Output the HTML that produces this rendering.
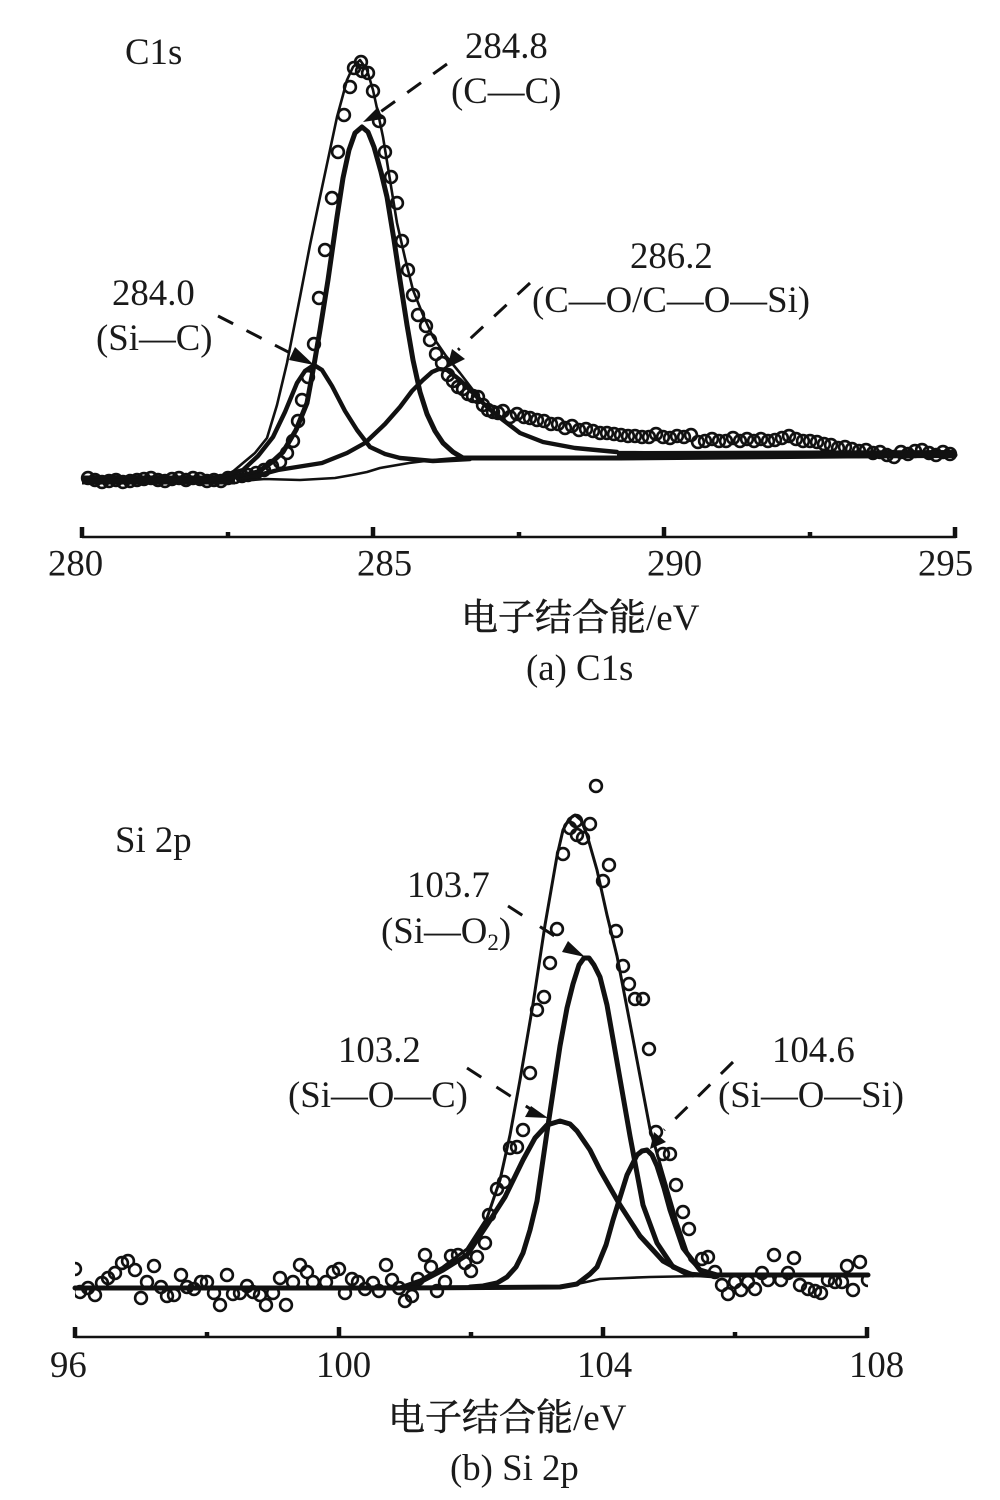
<!DOCTYPE html>
<html><head><meta charset="utf-8"><style>
html,body{margin:0;padding:0;background:#fff}
svg{display:block}
text{font-family:"Liberation Serif","Noto Serif CJK SC",serif;font-size:36.8px;fill:#1a1a1a}
.cn{font-family:"Liberation Serif","Noto Serif CJK SC",serif;font-size:37px}
.cj{stroke:#1a1a1a;stroke-width:.6}
.o circle{fill:none;stroke:#111;stroke-width:2.6;r:5.9px}
.t{fill:none;stroke:#111;stroke-width:5;stroke-linejoin:round;stroke-linecap:round}
.n{fill:none;stroke:#111;stroke-width:2.6;stroke-linejoin:round}
.d{fill:none;stroke:#111;stroke-width:3;stroke-dasharray:17 15}
.a{fill:none;stroke:#111;stroke-width:2.6}
</style></head><body>
<svg width="1000" height="1500" viewBox="0 0 1000 1500" xmlns="http://www.w3.org/2000/svg">
<defs><clipPath id="cb"><rect x="75" y="760" width="793" height="560"/></clipPath></defs>

<!-- Panel A circles -->
<g class="o">
<circle cx="361" cy="62"/><circle cx="354" cy="68"/><circle cx="362" cy="71"/><circle cx="368" cy="73"/><circle cx="350" cy="87"/><circle cx="373" cy="91"/><circle cx="344" cy="115"/><circle cx="379" cy="121"/><circle cx="338" cy="152"/><circle cx="385" cy="152"/><circle cx="391" cy="177"/><circle cx="332" cy="198"/><circle cx="397" cy="203"/><circle cx="325" cy="250"/><circle cx="402" cy="241"/><circle cx="408" cy="270"/><circle cx="319" cy="298"/><circle cx="413" cy="295"/><circle cx="418" cy="315"/><circle cx="426" cy="326"/><circle cx="430" cy="340"/><circle cx="436" cy="354"/><circle cx="314" cy="344"/><circle cx="442" cy="363"/><circle cx="308" cy="377"/><circle cx="302" cy="400"/><circle cx="298" cy="421"/><circle cx="293" cy="441"/><circle cx="287" cy="453"/><circle cx="280" cy="462"/><circle cx="272" cy="466"/><circle cx="264" cy="470"/><circle cx="256" cy="473"/><circle cx="248" cy="475"/>
<circle cx="448" cy="375"/><circle cx="453" cy="381"/><circle cx="458" cy="387"/><circle cx="463" cy="389"/><circle cx="468" cy="394"/><circle cx="473" cy="396"/><circle cx="478" cy="397"/><circle cx="483" cy="405"/><circle cx="488" cy="410"/><circle cx="493" cy="412"/><circle cx="498" cy="413"/><circle cx="503" cy="411"/>
<circle cx="510" cy="417"/><circle cx="517" cy="414"/><circle cx="524" cy="417"/><circle cx="530" cy="418"/><circle cx="537" cy="420"/><circle cx="544" cy="421"/><circle cx="551" cy="424"/><circle cx="558" cy="424"/><circle cx="565" cy="428"/><circle cx="572" cy="426"/><circle cx="579" cy="430"/><circle cx="586" cy="429"/><circle cx="593" cy="431"/><circle cx="600" cy="433"/><circle cx="607" cy="433"/><circle cx="614" cy="434"/><circle cx="621" cy="435"/><circle cx="628" cy="436"/><circle cx="635" cy="436"/><circle cx="642" cy="437"/><circle cx="649" cy="437"/><circle cx="656" cy="434"/><circle cx="663" cy="437"/><circle cx="670" cy="438"/><circle cx="677" cy="436"/><circle cx="684" cy="437"/><circle cx="691" cy="435"/><circle cx="698" cy="442"/><circle cx="705" cy="441"/><circle cx="712" cy="439"/><circle cx="719" cy="441"/><circle cx="726" cy="441"/><circle cx="733" cy="438"/><circle cx="740" cy="441"/><circle cx="747" cy="439"/><circle cx="754" cy="441"/><circle cx="761" cy="439"/><circle cx="768" cy="441"/><circle cx="775" cy="440"/><circle cx="782" cy="438"/><circle cx="789" cy="436"/><circle cx="796" cy="439"/><circle cx="803" cy="441"/><circle cx="810" cy="441"/><circle cx="817" cy="442"/><circle cx="824" cy="444"/><circle cx="831" cy="445"/><circle cx="838" cy="448"/><circle cx="845" cy="447"/><circle cx="852" cy="449"/><circle cx="859" cy="451"/><circle cx="866" cy="450"/><circle cx="873" cy="453"/><circle cx="880" cy="452"/><circle cx="887" cy="455"/><circle cx="894" cy="457"/><circle cx="901" cy="452"/><circle cx="908" cy="454"/><circle cx="915" cy="451"/><circle cx="922" cy="450"/><circle cx="929" cy="453"/><circle cx="936" cy="455"/><circle cx="943" cy="452"/><circle cx="950" cy="454"/>
<circle cx="88" cy="478"/><circle cx="95" cy="480"/><circle cx="102" cy="482"/><circle cx="109" cy="481"/><circle cx="116" cy="480"/><circle cx="123" cy="482"/><circle cx="130" cy="481"/><circle cx="137" cy="480"/><circle cx="144" cy="479"/><circle cx="151" cy="478"/><circle cx="158" cy="480"/><circle cx="165" cy="481"/><circle cx="172" cy="479"/><circle cx="179" cy="478"/><circle cx="186" cy="480"/><circle cx="193" cy="478"/><circle cx="200" cy="479"/><circle cx="207" cy="481"/><circle cx="214" cy="480"/><circle cx="221" cy="481"/><circle cx="228" cy="478"/><circle cx="235" cy="477"/><circle cx="242" cy="476"/>
</g>

<!-- Panel A curves -->
<path d="M82,480H235" fill="none" stroke="#111" stroke-width="9"/>
<polyline class="n" points="85,481 215,479 230,474 243,463 255,453 267,438 277,405 287,363 300,297 310,245 320,197 330,150 337,117 343,95 347,80 353,67 360,60 367,70 373,90 378,113 383,137 390,180 397,223 405,258 413,290 423,315 433,337 446,356 460,373 473,390 487,407 503,420 520,433 543,442 575,448 617,452 700,453 955,452"/>
<polyline class="t" points="85,481 210,480 235,477 258,472 272,462 283,452 296,430 307,403 314,365 320,330 328,280 337,217 343,178 349,150 355,133 362,127 368,132 374,147 381,172 387,197 394,240 400,280 407,325 413,360 420,392 427,414 435,431 443,443 453,452 463,458 480,458 620,458 955,455"/>
<polyline class="t" style="stroke-width:4.4" points="210,480 243,470 258,456 273,437 285,412 297,383 305,371 314,365 322,370 332,386 345,411 357,430 370,447 385,454 400,458 433,461 470,459"/>
<polyline class="t" style="stroke-width:4.4" points="240,480 278,470 322,463 347,453 365,443 385,424 400,407 412,391 423,380 432,372 439,369 447,370 460,380 472,392 487,407 503,420 520,433 543,442 575,448 617,452"/>
<polyline class="n" points="240,481 265,479 300,480 335,478 352,475 367,472 380,468 409,463 433,460 456,458 520,458"/>
<path d="M617,455L956,454" fill="none" stroke="#111" stroke-width="8"/>

<!-- Panel A leaders -->
<path class="d" d="M447,64L372,118"/><path d="M363,122L378,107L383,119Z" fill="#111"/>
<path class="d" d="M218,316L296,356"/><path d="M314,365L295,347L289,360Z" fill="#111"/>
<path class="d" d="M530,283L458,350"/><path d="M447,368L452,349L465,359Z" fill="#111"/>

<!-- Panel A axis -->
<path class="a" d="M82,537H956"/>
<path class="a" d="M82,538V527M373,538V527M664,538V527M955,538V527M228,538V532M519,538V532M810,538V532" style="stroke-width:4.5"/>
<text x="48" y="575.5">280</text><text x="357" y="575.5">285</text><text x="647" y="575.5">290</text><text x="918" y="575.5">295</text>
<text x="125" y="64">C1s</text>
<text x="465" y="58">284.8</text><text x="451" y="103">(C—C)</text>
<text x="630" y="268">286.2</text><text x="532" y="312">(C—O/C—O—Si)</text>
<text x="112" y="305">284.0</text><text x="96" y="350">(Si—C)</text>
<text class="cn" x="461" y="630"><tspan class="cj">电子结合能</tspan>/eV</text>
<text x="526" y="680">(a) C1s</text>

<!-- Panel B circles -->
<g class="o" clip-path="url(#cb)">
<circle cx="596" cy="786"/><circle cx="576" cy="821"/><circle cx="570" cy="828"/><circle cx="590" cy="824"/><circle cx="577" cy="835"/><circle cx="583" cy="838"/><circle cx="563" cy="854"/><circle cx="609" cy="865"/><circle cx="603" cy="881"/><circle cx="557" cy="929"/><circle cx="616" cy="931"/><circle cx="550" cy="963"/><circle cx="623" cy="966"/><circle cx="629" cy="984"/><circle cx="643" cy="999"/><circle cx="635" cy="999"/><circle cx="544" cy="997"/><circle cx="537" cy="1010"/><circle cx="649" cy="1049"/><circle cx="530" cy="1073"/><circle cx="523" cy="1130"/><circle cx="517" cy="1147"/><circle cx="510" cy="1148"/><circle cx="656" cy="1132"/><circle cx="663" cy="1154"/><circle cx="670" cy="1154"/><circle cx="676" cy="1185"/><circle cx="683" cy="1212"/><circle cx="689" cy="1229"/><circle cx="708" cy="1257"/><circle cx="702" cy="1259"/><circle cx="504" cy="1182"/><circle cx="497" cy="1189"/><circle cx="489" cy="1215"/><circle cx="485" cy="1243"/><circle cx="477" cy="1257"/><circle cx="471" cy="1271"/><circle cx="465" cy="1263"/><circle cx="458" cy="1255"/><circle cx="451" cy="1256"/><circle cx="425" cy="1255"/><circle cx="431" cy="1267"/><circle cx="418" cy="1279"/><circle cx="445" cy="1282"/><circle cx="437" cy="1291"/><circle cx="412" cy="1296"/><circle cx="405" cy="1301"/>
<circle cx="75" cy="1269"/><circle cx="80" cy="1292"/><circle cx="88" cy="1288"/><circle cx="95" cy="1295"/><circle cx="102" cy="1283"/><circle cx="108" cy="1278"/><circle cx="115" cy="1273"/><circle cx="122" cy="1263"/><circle cx="128" cy="1261"/><circle cx="135" cy="1270"/><circle cx="141" cy="1298"/><circle cx="147" cy="1282"/><circle cx="154" cy="1266"/><circle cx="161" cy="1287"/><circle cx="167" cy="1296"/><circle cx="174" cy="1295"/><circle cx="181" cy="1275"/><circle cx="187" cy="1287"/><circle cx="194" cy="1289"/><circle cx="201" cy="1282"/><circle cx="207" cy="1282"/><circle cx="214" cy="1293"/><circle cx="220" cy="1305"/><circle cx="227" cy="1275"/><circle cx="233" cy="1294"/><circle cx="240" cy="1293"/><circle cx="247" cy="1286"/><circle cx="253" cy="1292"/><circle cx="260" cy="1295"/><circle cx="266" cy="1305"/><circle cx="273" cy="1293"/><circle cx="280" cy="1278"/><circle cx="286" cy="1305"/><circle cx="293" cy="1282"/><circle cx="300" cy="1265"/><circle cx="307" cy="1272"/><circle cx="313" cy="1282"/><circle cx="326" cy="1282"/><circle cx="333" cy="1272"/><circle cx="339" cy="1269"/><circle cx="345" cy="1293"/><circle cx="352" cy="1279"/><circle cx="358" cy="1282"/><circle cx="365" cy="1289"/><circle cx="373" cy="1283"/><circle cx="379" cy="1291"/><circle cx="386" cy="1265"/><circle cx="392" cy="1280"/><circle cx="399" cy="1288"/>
<circle cx="715" cy="1272"/><circle cx="722" cy="1285"/><circle cx="728" cy="1294"/><circle cx="735" cy="1282"/><circle cx="741" cy="1290"/><circle cx="748" cy="1282"/><circle cx="755" cy="1289"/><circle cx="762" cy="1273"/><circle cx="768" cy="1280"/><circle cx="774" cy="1255"/><circle cx="781" cy="1280"/><circle cx="788" cy="1273"/><circle cx="794" cy="1258"/><circle cx="800" cy="1285"/><circle cx="808" cy="1289"/><circle cx="815" cy="1291"/><circle cx="821" cy="1293"/><circle cx="828" cy="1280"/><circle cx="835" cy="1282"/><circle cx="842" cy="1282"/><circle cx="847" cy="1266"/><circle cx="853" cy="1290"/><circle cx="860" cy="1262"/><circle cx="868" cy="1280"/>
</g>

<!-- Panel B curves -->
<polyline class="n" style="stroke-width:3" points="400,1287 420,1280 443,1267 467,1249 487,1218 500,1180 510,1135 520,1080 533,1004 545,925 557,856 563,830 569,819 575,815 581,820 587,835 597,870 607,915 617,956 633,1039 650,1129 663,1174 677,1222 690,1260 700,1270 707,1274 733,1275"/>
<polyline class="t" points="470,1287 483,1286 497,1283 507,1277 516,1267 523,1253 530,1230 537,1201 547,1132 560,1046 567,1008 573,984 579,965 584,958 589,958 594,965 600,977 607,1005 613,1039 630,1136 643,1205 657,1243 673,1267 693,1275"/>
<polyline class="t" points="75,1288 400,1288 420,1282 443,1270 467,1255 487,1225 505,1197 523,1160 535,1138 547,1125 560,1121 570,1124 577,1131 590,1150 600,1170 620,1205 640,1236 663,1261 687,1274 715,1276"/>
<polyline class="t" points="400,1288 560,1287 577,1284 590,1274 597,1267 606,1245 613,1220 627,1175 637,1155 642,1151 647,1150 652,1155 657,1166 664,1188 670,1210 683,1248 700,1270 717,1275 868,1275"/>
<polyline class="n" points="577,1284 600,1279 650,1277 700,1276"/>

<!-- Panel B leaders -->
<path class="d" d="M508,906L570,946" style="stroke-dasharray:17 21"/><path d="M585,957L568,941L562,952Z" fill="#111"/>
<path class="d" d="M467,1068L532,1110" style="stroke-dasharray:17 18"/><path d="M548,1118L531,1106L525,1117Z" fill="#111"/>
<path class="d" d="M733,1062L664,1130"/><path d="M650,1149L654,1132L666,1142Z" fill="#111"/>

<!-- Panel B axis -->
<path class="a" d="M75,1337H868"/>
<path class="a" d="M75,1338V1327M339,1338V1327M603,1338V1327M867,1338V1327M207,1338V1332M471,1338V1332M735,1338V1332" style="stroke-width:4.5"/>
<text x="50" y="1377">96</text><text x="316" y="1377">100</text><text x="577" y="1377">104</text><text x="849" y="1377">108</text>
<text x="115" y="852">Si 2p</text>
<text x="407" y="897">103.7</text><text x="381" y="943">(Si—O<tspan font-size="23" dy="7">2</tspan><tspan dy="-7">)</tspan></text>
<text x="338" y="1062">103.2</text><text x="288" y="1107">(Si—O—C)</text>
<text x="772" y="1062">104.6</text><text x="718" y="1107">(Si—O—Si)</text>
<text class="cn" x="388" y="1430"><tspan class="cj">电子结合能</tspan>/eV</text>
<text x="450" y="1480">(b) Si 2p</text>
</svg>
</body></html>
